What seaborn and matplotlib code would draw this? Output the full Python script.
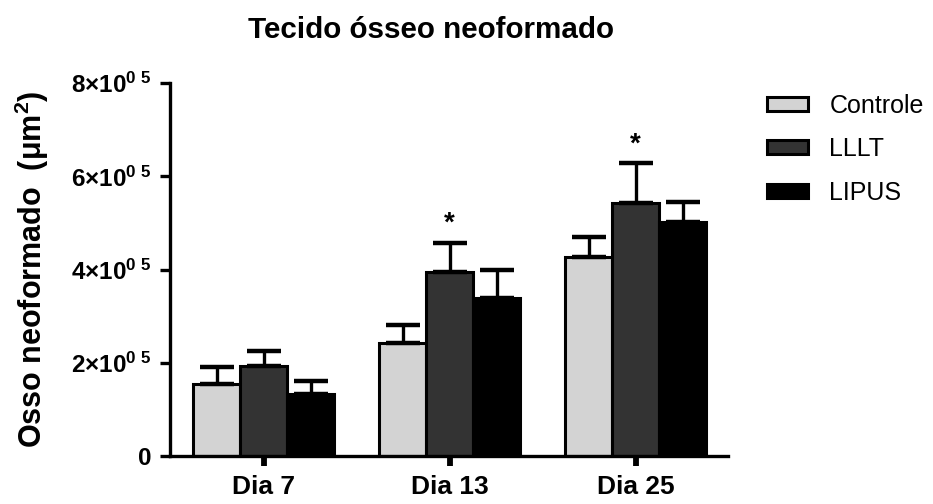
import matplotlib
matplotlib.use("Agg")
import matplotlib.pyplot as plt
from matplotlib.patches import Patch
import seaborn as sns
import pandas as pd
import numpy as np

# Dados: área de osso neoformado (µm²), média e erro padrão por grupo/dia
dias = ["Dia 7", "Dia 13", "Dia 25"]
grupos = ["Controle", "LLLT", "LIPUS"]
controle = [1.55e5, 2.43e5, 4.28e5]
lllt = [1.94e5, 3.94e5, 5.44e5]
lipus = [1.33e5, 3.40e5, 5.03e5]
controle_ep = [0.36e5, 0.39e5, 0.43e5]
lllt_ep = [0.32e5, 0.64e5, 0.84e5]
lipus_ep = [0.28e5, 0.60e5, 0.43e5]
significativo = {"LLLT": ["Dia 13", "Dia 25"]}
yticks = [0, 2e5, 4e5, 6e5, 8e5]
ytick_labels = ["0"] + [r"$\mathbf{%d{\times}10^{0\ 5}}$" % v for v in (2, 4, 6, 8)]
cores = {"Controle": "#d3d3d3", "LLLT": "#333333", "LIPUS": "#000000"}

sns.set_style("white")
plt.rcParams["font.family"] = ["Liberation Sans", "DejaVu Sans"]
plt.rcParams["mathtext.fontset"] = "custom"
plt.rcParams["mathtext.rm"] = "Liberation Sans"
plt.rcParams["mathtext.bf"] = "Liberation Sans:bold"
for k in ["text.color", "axes.labelcolor", "xtick.color", "ytick.color"]:
    plt.rcParams[k] = "black"

medias = {"Controle": controle, "LLLT": lllt, "LIPUS": lipus}
erros = {"Controle": controle_ep, "LLLT": lllt_ep, "LIPUS": lipus_ep}
df = pd.DataFrame([
    {"dia": d, "grupo": g, "valor": medias[g][i], "ep": erros[g][i]}
    for g in grupos for i, d in enumerate(dias)
])

fig = plt.figure(figsize=(9.33, 5.04), dpi=100)
ax = fig.add_axes([0.182, 0.095, 0.598, 0.74])

sns.barplot(data=df, x="dia", y="valor", hue="grupo", order=dias,
            hue_order=grupos, palette=cores, errorbar=None, width=0.76,
            edgecolor="black", linewidth=2.2, saturation=1, ax=ax, legend=False)

# Barras de erro (somente para cima) a partir dos retângulos desenhados
for container, g in zip(ax.containers, grupos):
    sub = df[df["grupo"] == g].set_index("dia").loc[dias]
    xs = [p.get_x() + p.get_width() / 2 for p in container.patches]
    ax.errorbar(xs, sub["valor"].values,
                yerr=[np.zeros(len(xs)), sub["ep"].values],
                fmt="none", ecolor="black", elinewidth=2.4, capsize=12.5,
                capthick=3.2, zorder=1)
    for x, d, v, e in zip(xs, dias, sub["valor"].values, sub["ep"].values):
        if d in significativo.get(g, []):
            ax.text(x, v + e + 0.13e5, "*", ha="center", va="bottom",
                    fontsize=20, fontweight="bold")

ax.set_xlim(-0.505, 2.495)
ax.set_ylim(0, 8e5)
ax.set_yticks(yticks)
ax.set_yticklabels(ytick_labels)
ax.set_xlabel("")
ax.set_ylabel(r"Osso neoformado  ($\mathbf{\mu m^2}$)", fontsize=22,
              fontweight="bold")
ax.yaxis.set_label_coords(-0.213, 0.5)
fig.text(0.462, 0.94, "Tecido ósseo neoformado", fontsize=21.3,
         fontweight="bold", ha="center", va="center")

for s in ["top", "right"]:
    ax.spines[s].set_visible(False)
for s in ["left", "bottom"]:
    ax.spines[s].set_linewidth(2.4)
    ax.spines[s].set_color("black")
ax.tick_params(axis="y", direction="out", width=2.4, length=7,
               color="black", labelsize=17.5, left=True, pad=6)
ax.tick_params(axis="x", direction="out", width=4.2, length=7,
               color="black", labelsize=19, bottom=True, pad=6.5)
for lab in ax.get_xticklabels() + ax.get_yticklabels():
    lab.set_fontweight("bold")

handles = [Patch(facecolor=cores[g], edgecolor="black", linewidth=2.2) for g in grupos]
fig.legend(handles, grupos, loc="center left", bbox_to_anchor=(0.822, 0.704),
           frameon=False, fontsize=18, handlelength=1.65, handleheight=0.48,
           labelspacing=0.78, handletextpad=0.85, borderaxespad=0, borderpad=0)

fig.savefig("out.png", dpi=100)
